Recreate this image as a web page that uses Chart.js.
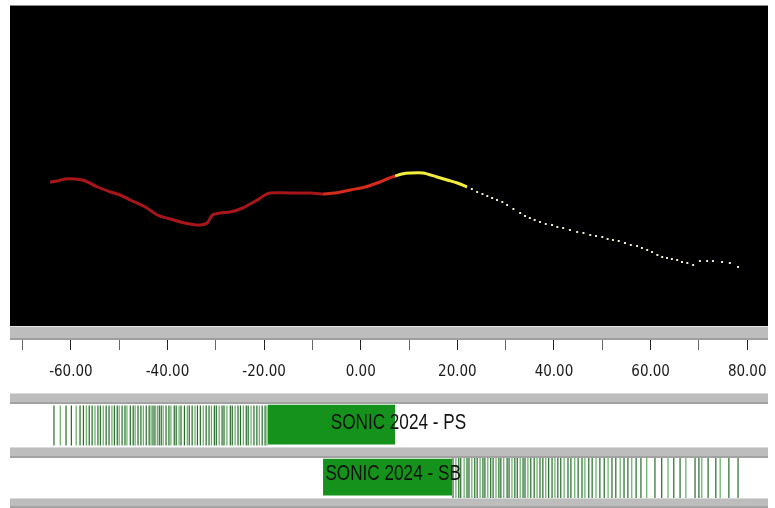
<!DOCTYPE html>
<html>
<head>
<meta charset="utf-8">
<script src="https://cdn.jsdelivr.net/npm/chart.js@4.4.1/dist/chart.umd.min.js"></script>
<style>
    body { margin: 0; background: #fff; width: 775px; height: 508px; position: relative; overflow: hidden; }
    canvas { position: absolute; left: 0; }
    .rail { position: absolute; left: 10px; width: 758px; background: #bdbdbd; border-top: 1px solid #dadada; border-bottom: 2px solid #a2a2a2; box-sizing: border-box; }
</style>
</head>
<body>
<canvas id="profile" width="775" height="392" style="top:0"></canvas>
<div class="rail" style="top:393px;height:11px"></div>
<canvas id="trackPS" width="775" height="43" style="top:404px"></canvas>
<div class="rail" style="top:447px;height:11px"></div>
<canvas id="trackSB" width="775" height="40" style="top:458px"></canvas>
<div class="rail" style="top:498px;height:10px"></div>
<script>
// profile, split in the four colour runs seen on the plot
const redX  = [-64.3, -62.8, -61.2, -59.1, -57.0, -54.5, -51.8, -49.8, -47.7, -44.6, -42.1, -39.4, -37.3, -35.3, -33.2, -31.8, -30.7, -29.1, -27.0, -24.4, -22.9, -21.4, -20.2, -18.8, -14.6, -10.5, -7.8];
const redY  = [15.8, 15.9, 16.1, 16.1, 15.9, 15.3, 14.8, 14.5, 14.0, 13.3, 12.5, 12.1, 11.8, 11.6, 11.5, 11.7, 12.5, 12.7, 12.8, 13.2, 13.6, 14.0, 14.4, 14.7, 14.7, 14.7, 14.6];
const hotX  = [-7.8, -5.3, -2.2, 0.9, 3.4, 5.4, 7.1];
const hotY  = [14.6, 14.7, 15.0, 15.3, 15.7, 16.1, 16.4];
const peakX = [7.1, 8.5, 10.2, 12.9, 15.8, 17.9, 20.0, 22.0];
const peakY = [16.4, 16.6, 16.7, 16.7, 16.3, 16.0, 15.7, 15.3];
const tailX = [23.0, 24.1, 25.2, 26.2, 27.2, 28.2, 29.3, 30.3, 31.6, 33.0, 34.0, 35.0, 36.0, 37.1, 38.3, 39.6, 40.7, 41.9, 43.3, 44.8, 46.1, 47.5, 48.7, 50.0, 51.1, 52.2, 53.4, 54.7, 55.9, 57.2, 58.2, 59.3, 60.3, 61.4, 62.4, 63.4, 64.4, 65.5, 66.5, 67.6, 68.8, 70.2, 71.7, 72.9, 74.8, 76.4, 78.1];
const tailY = [15.1, 14.8, 14.6, 14.4, 14.2, 14.0, 13.8, 13.5, 13.1, 12.7, 12.4, 12.2, 12.0, 11.8, 11.6, 11.5, 11.3, 11.2, 11.0, 10.8, 10.7, 10.5, 10.4, 10.3, 10.1, 10.0, 9.9, 9.7, 9.5, 9.4, 9.2, 9.0, 8.8, 8.5, 8.3, 8.2, 8.1, 8.0, 7.8, 7.7, 7.5, 7.9, 7.9, 7.9, 7.8, 7.7, 7.3];

const tickValues = [-70, -60, -50, -40, -30, -20, -10, 0, 10, 20, 30, 40, 50, 60, 70, 80];

// track strips
const psLabel = 'SONIC 2024 - PS';
const psBlock = [-19.2, 7.1];
const psLines = [-63.5, -62.2, -61.0, -59.9, -58.9, -58.1, -57.4, -56.8, -56.2, -55.6, -55.0, -54.4, -53.9, -53.3, -52.7, -52.1, -51.5, -51.0, -50.4, -50.0, -49.4, -48.8, -48.4, -47.7, -47.1, -46.7, -46.1, -45.5, -45.0, -44.4, -43.8, -43.4, -43.0, -42.6, -42.1, -41.7, -41.3, -40.9, -40.3, -39.7, -39.3, -38.6, -38.2, -37.6, -37.2, -36.5, -35.9, -35.5, -34.9, -34.3, -33.8, -33.2, -32.6, -32.0, -31.4, -30.9, -30.3, -29.9, -29.3, -28.7, -28.3, -27.7, -27.0, -26.6, -26.0, -25.4, -24.9, -24.3, -23.7, -23.3, -22.7, -22.1, -21.5, -21.0, -20.4, -19.8, -19.4];
const sbLabel = 'SONIC 2024 - SB';
const sbBlock = [-7.8, 18.9];
const sbLines = [19.1, 19.7, 20.3, 20.7, 21.4, 22.0, 22.4, 23.0, 23.6, 24.1, 24.7, 25.3, 25.7, 26.3, 26.9, 27.4, 28.0, 28.6, 29.0, 29.6, 30.3, 30.7, 31.3, 31.9, 32.4, 33.0, 33.6, 34.0, 34.6, 35.2, 35.9, 36.5, 37.1, 37.7, 38.3, 38.9, 39.6, 40.2, 40.8, 41.4, 42.1, 42.9, 43.5, 44.3, 45.0, 45.8, 46.4, 47.2, 47.9, 48.7, 49.5, 50.4, 51.2, 52.0, 52.8, 53.7, 54.5, 55.3, 56.1, 57.0, 58.0, 59.2, 60.9, 62.3, 63.6, 64.8, 66.1, 67.3, 69.2, 70.0, 70.6, 71.9, 73.5, 74.4, 76.2, 78.1];

const X_MIN = -72.6, X_MAX = 84.3;
const tickFont = "'Liberation Sans Narrow', 'DejaVu Sans Condensed', 'Liberation Sans', sans-serif";

const pts = (xs, ys) => xs.map((x, i) => ({ x: x, y: ys[i] }));

const plotBackdrop = {
    id: 'plotBackdrop',
    beforeDraw(chart) {
        const { ctx, chartArea: a } = chart;
        const w = a.right - a.left;
        ctx.save();
        ctx.fillStyle = '#000';
        ctx.fillRect(a.left, a.top, w, a.bottom - a.top - 14);
        ctx.fillStyle = '#8a8a8a';
        ctx.fillRect(a.left, a.top, w, 1);
        // grey rail under the plot
        ctx.fillStyle = '#bdbdbd';
        ctx.fillRect(a.left, a.bottom - 14, w, 14);
        ctx.fillStyle = '#e6e6e6';
        ctx.fillRect(a.left, a.bottom - 14, w, 1);
        ctx.fillStyle = '#9e9e9e';
        ctx.fillRect(a.left, a.bottom - 2, w, 2);
        ctx.restore();
    }
};

new Chart(document.getElementById('profile'), {
    type: 'scatter',
    data: {
        datasets: [
            { data: pts(redX, redY), showLine: true, borderColor: '#a8161a', borderWidth: 3, pointRadius: 0, tension: 0.3 },
            { data: pts(hotX, hotY), showLine: true, borderColor: '#d42b1c', borderWidth: 3, pointRadius: 0, tension: 0.3 },
            { data: pts(peakX, peakY), showLine: true, borderColor: '#f3ee3c', borderWidth: 3, pointRadius: 0, tension: 0.3 },
            { data: pts(tailX, tailY), showLine: false, pointStyle: 'rect', pointRadius: 1.4, pointBackgroundColor: '#f3f0c8', pointBorderWidth: 0 }
        ]
    },
    options: {
        responsive: false,
        animation: false,
        events: [],
        layout: { autoPadding: false, padding: { left: 10, right: 7, top: 5, bottom: 0 } },
        plugins: { legend: { display: false }, tooltip: { enabled: false } },
        scales: {
            x: {
                type: 'linear',
                min: X_MIN,
                max: X_MAX,
                afterBuildTicks: s => { s.ticks = tickValues.map(v => ({ value: v })); },
                afterFit: s => { s.height = 52; s.paddingLeft = 0; s.paddingRight = 0; },
                border: { display: false },
                grid: {
                    drawOnChartArea: false,
                    drawTicks: true,
                    tickLength: 10,
                    tickWidth: 1,
                    tickColor: c => (c.tick && c.tick.value % 20 === 0) ? '#222' : '#666'
                },
                ticks: {
                    autoSkip: false,
                    maxRotation: 0,
                    padding: 13,
                    color: '#1a1a1a',
                    font: { family: tickFont, size: 15 },
                    callback: v => (v % 20 === 0 ? v.toFixed(2) : '')
                }
            },
            y: { display: false, min: 0, max: 33.5 }
        }
    },
    plugins: [plotBackdrop]
});

function trackLabel(text, at, level) {
    return {
        id: 'trackLabel',
        afterDatasetsDraw(chart) {
            const { ctx, scales } = chart;
            const x = scales.x.getPixelForValue(at);
            ctx.save();
            ctx.translate(x, scales.y.getPixelForValue(level));
            ctx.scale(0.78, 1);   // the strip captions are in a narrow face
            ctx.font = "22px 'Liberation Sans', Arial, sans-serif";
            ctx.fillStyle = '#111';
            ctx.textAlign = 'center';
            ctx.textBaseline = 'middle';
            ctx.fillText(text, 0, 0);
            ctx.restore();
        }
    };
}

function makeTrack(id, lines, block, label, labelAt, labelLevel) {
    new Chart(document.getElementById(id), {
        type: 'scatter',
        data: {
            datasets: [
                {
                    data: lines.map(x => ({ x: x, y: 0.5 })),
                    pointStyle: 'line', pointRotation: 90, pointRadius: 20, pointBorderWidth: 1.2,
                    pointBorderColor: c => (c.dataIndex % 3 === 1 ? '#5fae5f' : '#246b28')
                },
                {
                    type: 'line',
                    data: [{ x: block[0], y: 0.98 }, { x: block[1], y: 0.98 }],
                    borderColor: 'rgba(0,0,0,0)', borderWidth: 1, pointRadius: 0,
                    fill: { value: 0.06 }, backgroundColor: '#14921c'
                }
            ]
        },
        options: {
            responsive: false,
            animation: false,
            events: [],
            layout: { autoPadding: false, padding: { left: 10, right: 7, top: 0, bottom: 0 } },
            plugins: { legend: { display: false }, tooltip: { enabled: false } },
            scales: {
                x: { type: 'linear', display: false, min: X_MIN, max: X_MAX },
                y: { type: 'linear', display: false, min: 0, max: 1 }
            }
        },
        plugins: [trackLabel(label, labelAt, labelLevel)]
    });
}

makeTrack('trackPS', psLines, psBlock, psLabel, 7.8, 0.56);
makeTrack('trackSB', sbLines, sbBlock, sbLabel, 6.7, 0.6);
</script>
</body>
</html>
